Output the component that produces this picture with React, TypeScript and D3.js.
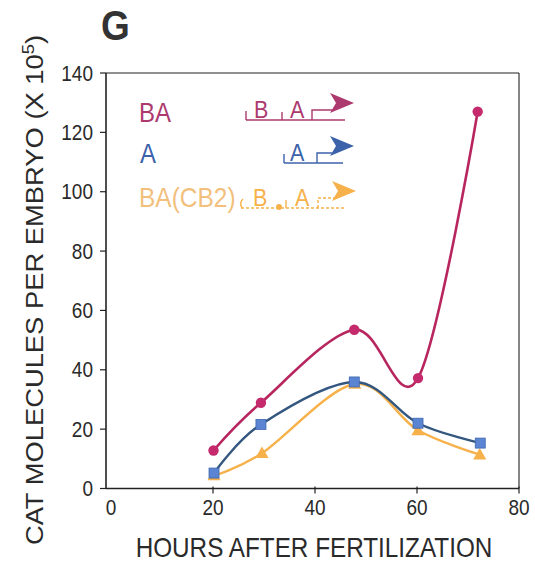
import * as d3 from "d3";

// values
const hoursBA = [20.1, 29.4, 47.7, 60.2, 71.9];
const valuesBA = [12.8, 28.9, 53.5, 37.2, 127];
const hoursA = [20.2, 29.4, 47.7, 60.2, 72.4];
const valuesA = [5.2, 21.6, 35.9, 22.0, 15.3];
const hoursCB2 = [20.2, 29.6, 47.8, 60.2, 72.3];
const valuesCB2 = [4.4, 11.9, 35.2, 19.6, 11.4];

const xTicks = [0, 20, 40, 60, 80];
const yTicks = [0, 20, 40, 60, 80, 100, 120, 140];

const FONT = "'Liberation Sans', Arial, Helvetica, sans-serif";
const SY = 1.15; // the scan is stretched vertically

const W = 535;
const H = 562;
const frame = { left: 106, right: 519, top: 73, bottom: 488.5 };

const xScale = d3.scaleLinear().domain([0, 80]).range([111, 519]);
const yScale = d3.scaleLinear().domain([0, 140]).range([488.5, 73]);

const C = {
  ba: "#c42a6c",
  baLine: "#b8265f",
  baText: "#ad3a6e",
  a: "#5b84d2",
  aLine: "#33577f",
  aText: "#3c62aa",
  cb2: "#f6b14a",
  cb2Text: "#f2c07c",
  axis: "#222",
  text: "#2a2a2a",
};

const T = ({ x, y, size, fill = C.text, anchor = "start", weight = "normal", rotate = 0, children }: any) => (
  <text
    transform={`translate(${x},${y}) scale(1,${SY})${rotate ? ` rotate(${rotate})` : ""}`}
    fontFamily={FONT}
    fontSize={size}
    fill={fill}
    textAnchor={anchor}
    fontWeight={weight}
  >
    {children}
  </text>
);

const toPts = (xs: number[], ys: number[]) => xs.map((h, i) => [h, ys[i]] as [number, number]);

const line = d3
  .line<[number, number]>()
  .x((d) => xScale(d[0]))
  .y((d) => yScale(d[1]))
  .curve(d3.curveCardinal.tension(0));

const tri = d3.symbol().type(d3.symbolTriangle).size(75)();

// promoter diagram used in the legend
const Construct = ({ x0, by, color, parts, dashed = false, dot = false }: any) => {
  const dash = dashed ? "3,2" : undefined;
  const arrowX = parts.arrowX;
  return (
    <g stroke={color} fill="none" strokeWidth={1.4}>
      <line x1={x0} x2={parts.end} y1={by} y2={by} strokeDasharray={dash} />
      {dashed ? (
        <path d={`M${x0 + 2},${by - 9} Q${x0 - 2},${by - 5} ${x0 + 1},${by}`} />
      ) : (
        <line x1={x0} x2={x0} y1={by - 9} y2={by} />
      )}
      {parts.mid && <line x1={parts.mid} x2={parts.mid} y1={by - 8} y2={by} />}
      <path d={`M${arrowX},${by} V${by - 10} H${parts.headX + 2}`} strokeDasharray={dash} />
      <path
        d={`M${parts.headX},${by - 27} L${parts.headX + 24},${by - 17} L${parts.headX},${by - 7} L${parts.headX + 6},${by - 17} Z`}
        fill={color}
        stroke="none"
      />
      {dot && <circle cx={parts.dot} cy={by - 1} r={3} fill={color} stroke="none" />}
      {parts.b && (
        <g stroke="none">
          <T x={parts.b} y={by - 2} size={21.5} fill={color}>B</T>
        </g>
      )}
      <g stroke="none">
        <T x={parts.a} y={by - 2} size={21.5} fill={color}>A</T>
      </g>
    </g>
  );
};

export default function App() {
  const ba = toPts(hoursBA, valuesBA);
  const a = toPts(hoursA, valuesA);
  const cb2 = toPts(hoursCB2, valuesCB2);

  return (
    <svg width={W} height={H} style={{ position: "absolute", left: 0, top: 0, background: "#fff" }}>
      {/* panel letter */}
      <T x={101} y={40} size={37} weight="bold" fill="#333">G</T>

      {/* frame */}
      <line x1={frame.left} x2={frame.right} y1={frame.top} y2={frame.top} stroke={C.axis} strokeWidth={1.1} />
      <line x1={frame.right} x2={frame.right} y1={frame.top} y2={frame.bottom} stroke={C.axis} strokeWidth={1.1} />
      <line x1={frame.left} x2={frame.left} y1={frame.top} y2={frame.bottom} stroke={C.axis} strokeWidth={1.6} />
      <line x1={frame.left} x2={frame.right} y1={frame.bottom} y2={frame.bottom} stroke={C.axis} strokeWidth={1.6} />

      {/* y ticks */}
      {yTicks.map((t) => (
        <g key={t}>
          <line x1={frame.left - 6} x2={frame.left} y1={yScale(t)} y2={yScale(t)} stroke={C.axis} strokeWidth={1.2} />
          <T x={93} y={yScale(t) + 7.5} size={19} anchor="end">{t}</T>
        </g>
      ))}
      {/* x ticks */}
      {xTicks.map((t) => (
        <g key={t}>
          {t > 0 && (
            <line x1={xScale(t)} x2={xScale(t)} y1={frame.bottom - 2} y2={frame.bottom + 5} stroke={C.axis} strokeWidth={1.2} />
          )}
          <T x={xScale(t)} y={515} size={19} anchor="middle">{t}</T>
        </g>
      ))}

      {/* axis titles */}
      <T x={314} y={556.5} size={24.3} anchor="middle">HOURS AFTER FERTILIZATION</T>
      <text
        transform={`translate(43,${(548 + 32) / 2}) scale(1,${SY}) rotate(-90)`}
        fontFamily={FONT}
        fontSize={23.8}
        fill={C.text}
        textAnchor="middle"
      >
        CAT MOLECULES PER EMBRYO (X 10
        <tspan fontSize={16} dy={-9}>5</tspan>
        <tspan dy={9}>)</tspan>
      </text>

      {/* series lines */}
      <path d={line(cb2)!} fill="none" stroke={C.cb2} strokeWidth={2.4} />
      <path d={line(a)!} fill="none" stroke={C.aLine} strokeWidth={2.4} />
      <path d={line(ba)!} fill="none" stroke={C.baLine} strokeWidth={2.6} />

      {/* markers */}
      {cb2.map((d, i) => (
        <path key={i} d={tri!} transform={`translate(${xScale(d[0])},${yScale(d[1]) + 1})`} fill={C.cb2} />
      ))}
      {a.map((d, i) => (
        <rect
          key={i}
          x={xScale(d[0]) - 5}
          y={yScale(d[1]) - 5}
          width={10}
          height={10}
          fill={C.a}
          stroke="#3d66b0"
          strokeWidth={0.8}
        />
      ))}
      {ba.map((d, i) => (
        <circle key={i} cx={xScale(d[0])} cy={yScale(d[1])} r={5.2} fill={C.ba} />
      ))}

      {/* legend */}
      <T x={139} y={121.5} size={24} fill={C.baText}>BA</T>
      <T x={140} y={163} size={24} fill={C.aText}>A</T>
      <T x={139} y={206.5} size={24.5} fill={C.cb2Text}>BA(CB2)</T>

      <Construct x0={246} by={120} color={C.baText}
        parts={{ end: 345, mid: 282, b: 254, a: 290, arrowX: 312, headX: 330 }} />
      <Construct x0={284} by={163} color={C.aText}
        parts={{ end: 343, a: 290, arrowX: 317, headX: 330 }} />
      <Construct x0={241} by={208} color={C.cb2} dashed dot
        parts={{ end: 345, mid: 286, b: 253, a: 295, arrowX: 318, headX: 332, dot: 279 }} />
    </svg>
  );
}
